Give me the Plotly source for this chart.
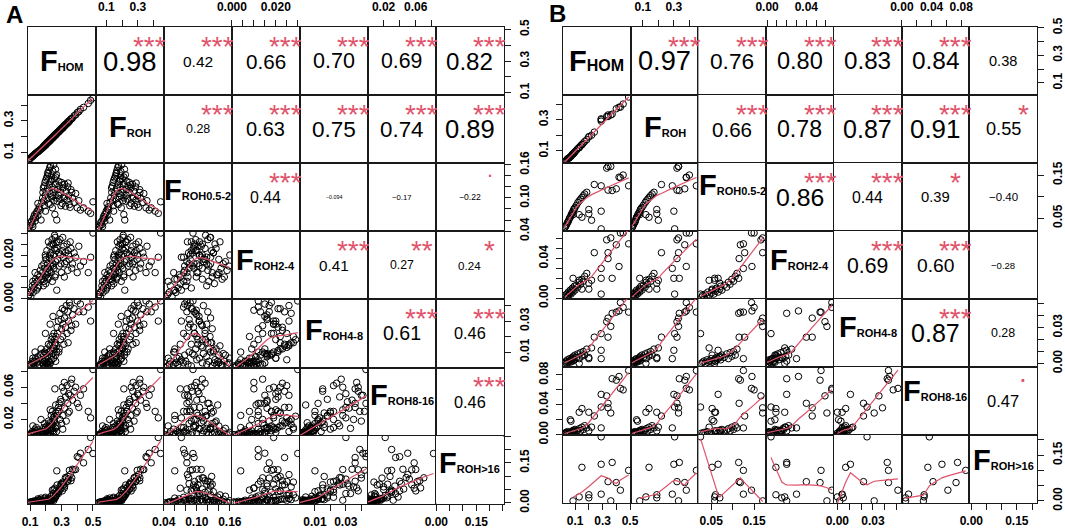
import numpy as np
import plotly.graph_objects as go

# ===================== PANEL A data (one value per individual) =====================
A_F_HOM = [0.088, 0.095, 0.100, 0.105, 0.110, 0.115, 0.120, 0.125, 0.130, 0.135,
           0.140, 0.145, 0.150, 0.155, 0.160, 0.165, 0.170, 0.150, 0.180, 0.182,
           0.185, 0.188, 0.190, 0.192, 0.195, 0.197, 0.200, 0.202, 0.205, 0.207,
           0.210, 0.212, 0.215, 0.217, 0.220, 0.222, 0.225, 0.227, 0.230, 0.232,
           0.235, 0.237, 0.240, 0.242, 0.245, 0.248, 0.250, 0.252, 0.255, 0.258,
           0.260, 0.262, 0.265, 0.268, 0.270, 0.275, 0.280, 0.285, 0.290, 0.295,
           0.300, 0.305, 0.310, 0.315, 0.320, 0.325, 0.330, 0.335, 0.340, 0.345,
           0.350, 0.360, 0.370, 0.380, 0.390, 0.400, 0.410, 0.420, 0.500, 0.485,
           0.440, 0.470, 0.175, 0.198, 0.213, 0.228, 0.238, 0.246, 0.256, 0.263,
           0.272, 0.283, 0.297, 0.308, 0.318, 0.342, 0.355, 0.365, 0.132, 0.118]
A_F_ROH = [0.048, 0.054, 0.061, 0.063, 0.071, 0.072, 0.079, 0.082, 0.089, 0.091,
           0.097, 0.099, 0.105, 0.107, 0.113, 0.115, 0.121, 0.104, 0.128, 0.134,
           0.133, 0.140, 0.138, 0.145, 0.143, 0.150, 0.147, 0.155, 0.152, 0.160,
           0.158, 0.165, 0.162, 0.170, 0.167, 0.175, 0.172, 0.180, 0.177, 0.185,
           0.182, 0.190, 0.187, 0.195, 0.192, 0.201, 0.197, 0.205, 0.202, 0.211,
           0.207, 0.215, 0.212, 0.221, 0.217, 0.228, 0.226, 0.238, 0.236, 0.248,
           0.246, 0.258, 0.256, 0.268, 0.266, 0.278, 0.276, 0.288, 0.286, 0.298,
           0.296, 0.312, 0.318, 0.332, 0.338, 0.352, 0.358, 0.372, 0.445, 0.430,
           0.385, 0.410, 0.124, 0.146, 0.164, 0.176, 0.189, 0.194, 0.207, 0.211,
           0.223, 0.231, 0.249, 0.254, 0.270, 0.289, 0.305, 0.313, 0.090, 0.076]
A_F_ROH_05_2 = [0.042, 0.047, 0.050, 0.055, 0.058, 0.052, 0.062, 0.066, 0.070, 0.064,
                0.072, 0.076, 0.068, 0.080, 0.084, 0.078, 0.060, 0.090, 0.100, 0.110,
                0.118, 0.095, 0.122, 0.086, 0.128, 0.105, 0.132, 0.112, 0.136, 0.098,
                0.140, 0.118, 0.144, 0.090, 0.150, 0.125, 0.155, 0.108, 0.158, 0.130,
                0.102, 0.140, 0.120, 0.082, 0.148, 0.110, 0.160, 0.095, 0.135, 0.070,
                0.125, 0.152, 0.100, 0.142, 0.060, 0.115, 0.105, 0.122, 0.098, 0.110,
                0.128, 0.090, 0.118, 0.102, 0.125, 0.085, 0.112, 0.096, 0.120, 0.104,
                0.088, 0.115, 0.100, 0.092, 0.108, 0.082, 0.095, 0.078, 0.093, 0.072,
                0.082, 0.076, 0.092, 0.076, 0.146, 0.088, 0.133, 0.104, 0.116, 0.138,
                0.094, 0.130, 0.086, 0.124, 0.099, 0.127, 0.083, 0.110, 0.058, 0.048]
A_F_ROH_2_4 = [0.001, 0.002, 0.003, 0.001, 0.004, 0.006, 0.003, 0.005, 0.007, 0.009,
               0.004, 0.008, 0.011, 0.006, 0.010, 0.013, 0.009, 0.005, 0.012, 0.009,
               0.006, 0.016, 0.008, 0.014, 0.010, 0.020, 0.007, 0.018, 0.011, 0.022,
               0.012, 0.016, 0.014, 0.026, 0.010, 0.019, 0.013, 0.024, 0.015, 0.021,
               0.012, 0.018, 0.027, 0.008, 0.016, 0.025, 0.020, 0.014, 0.023, 0.010,
               0.028, 0.017, 0.022, 0.026, 0.004, 0.018, 0.026, 0.015, 0.027, 0.020,
               0.012, 0.022, 0.019, 0.024, 0.016, 0.021, 0.017, 0.025, 0.013, 0.020,
               0.018, 0.023, 0.016, 0.021, 0.019, 0.012, 0.024, 0.015, 0.030, 0.019,
               0.017, 0.012, 0.015, 0.019, 0.009, 0.020, 0.025, 0.015, 0.029, 0.011,
               0.023, 0.021, 0.016, 0.028, 0.010, 0.022, 0.026, 0.014, 0.012, 0.008]
A_F_ROH_4_8 = [0.000, 0.001, 0.002, 0.001, 0.002, 0.004, 0.003, 0.002, 0.004, 0.006,
               0.005, 0.003, 0.007, 0.004, 0.002, 0.008, 0.012, 0.001, 0.005, 0.003,
               0.002, 0.008, 0.004, 0.010, 0.001, 0.006, 0.003, 0.009, 0.002, 0.012,
               0.003, 0.007, 0.002, 0.015, 0.004, 0.010, 0.002, 0.014, 0.003, 0.011,
               0.018, 0.008, 0.016, 0.020, 0.009, 0.013, 0.006, 0.022, 0.012, 0.015,
               0.016, 0.008, 0.020, 0.014, 0.010, 0.022, 0.030, 0.012, 0.035, 0.018,
               0.025, 0.038, 0.028, 0.015, 0.032, 0.026, 0.040, 0.022, 0.036, 0.030,
               0.042, 0.024, 0.034, 0.038, 0.028, 0.043, 0.036, 0.041, 0.043, 0.030,
               0.036, 0.039, 0.009, 0.022, 0.001, 0.028, 0.005, 0.033, 0.018, 0.004,
               0.026, 0.010, 0.031, 0.020, 0.037, 0.016, 0.040, 0.027, 0.010, 0.006]
A_F_ROH_8_16 = [0.001, 0.000, 0.002, 0.001, 0.003, 0.005, 0.002, 0.004, 0.003, 0.006,
                0.010, 0.004, 0.002, 0.007, 0.003, 0.005, 0.020, 0.001, 0.003, 0.002,
                0.004, 0.010, 0.001, 0.015, 0.002, 0.008, 0.004, 0.006, 0.001, 0.012,
                0.002, 0.009, 0.003, 0.018, 0.002, 0.008, 0.001, 0.016, 0.002, 0.010,
                0.025, 0.012, 0.014, 0.030, 0.006, 0.022, 0.004, 0.020, 0.018, 0.058,
                0.010, 0.009, 0.028, 0.005, 0.025, 0.030, 0.035, 0.040, 0.020, 0.045,
                0.015, 0.060, 0.025, 0.055, 0.034, 0.048, 0.018, 0.062, 0.040, 0.052,
                0.030, 0.065, 0.044, 0.055, 0.060, 0.040, 0.035, 0.050, 0.082, 0.022,
                0.058, 0.030, 0.004, 0.010, 0.000, 0.032, 0.016, 0.009, 0.024, 0.038,
                0.012, 0.030, 0.042, 0.008, 0.066, 0.028, 0.050, 0.070, 0.008, 0.012]
A_F_ROH_16 = [0.000, 0.002, 0.001, 0.004, 0.002, 0.005, 0.006, 0.005, 0.003, 0.008,
              0.004, 0.009, 0.015, 0.010, 0.012, 0.011, 0.018, 0.006, 0.008, 0.006,
              0.003, 0.009, 0.004, 0.017, 0.003, 0.007, 0.002, 0.006, 0.004, 0.013,
              0.002, 0.011, 0.001, 0.016, 0.003, 0.009, 0.002, 0.014, 0.001, 0.010,
              0.026, 0.008, 0.012, 0.048, 0.014, 0.028, 0.008, 0.050, 0.015, 0.055,
              0.030, 0.025, 0.044, 0.030, 0.120, 0.040, 0.035, 0.045, 0.060, 0.052,
              0.070, 0.045, 0.070, 0.068, 0.063, 0.095, 0.093, 0.080, 0.081, 0.089,
              0.122, 0.083, 0.126, 0.124, 0.125, 0.173, 0.170, 0.186, 0.185, 0.245,
              0.150, 0.200, 0.005, 0.021, 0.007, 0.010, 0.009, 0.035, 0.019, 0.022,
              0.067, 0.042, 0.072, 0.078, 0.056, 0.099, 0.106, 0.094, 0.002, 0.002]

# correlations shown in the upper triangle (row-wise) and their significance codes
A_COR = [[0.98, 0.42, 0.66, 0.70, 0.69, 0.82],
         [0.28, 0.63, 0.75, 0.74, 0.89],
         [0.44, -0.094, -0.17, -0.22],
         [0.41, 0.27, 0.24],
         [0.61, 0.46],
         [0.46]]
A_SIG = [["***", "***", "***", "***", "***", "***"],
         ["***", "***", "***", "***", "***"],
         ["***", "", "", "."],
         ["***", "**", "*"],
         ["***", "***"],
         ["***"]]
A_RANGE = [[0.084, 0.516], [0.031, 0.463], [0.0395, 0.163], [-0.0002, 0.0308],
           [0.0, 0.044], [0.0, 0.0845], [-0.003, 0.252]]
A_TICKS = [[0.1, 0.2, 0.3, 0.4, 0.5], [0.1, 0.2, 0.3, 0.4],
           [0.04, 0.06, 0.08, 0.10, 0.12, 0.14, 0.16],
           [0.0, 0.005, 0.010, 0.015, 0.020, 0.025, 0.030],
           [0.01, 0.02, 0.03, 0.04], [0.02, 0.04, 0.06, 0.08],
           [0.0, 0.05, 0.10, 0.15, 0.20, 0.25]]
A_TICKTEXT = [["0.1", "", "0.3", "", "0.5"], ["0.1", "", "0.3", ""],
              ["0.04", "", "", "0.10", "", "", "0.16"],
              ["0.000", "", "", "", "0.020", "", ""],
              ["0.01", "", "0.03", ""], ["0.02", "", "0.06", ""],
              ["0.00", "", "", "0.15", "", ""]]

# ===================== PANEL B data =====================
B_F_HOM = [0.290, 0.150, 0.290, 0.370, 0.490, 0.340, 0.400, 0.430, 0.290, 0.200,
           0.200, 0.130, 0.085, 0.360,
           0.025, 0.030, 0.035, 0.040, 0.045, 0.050, 0.055, 0.060, 0.065, 0.070,
           0.075, 0.080, 0.085, 0.090, 0.095, 0.100, 0.110, 0.120, 0.130, 0.140,
           0.150, 0.160, 0.170, 0.185, 0.220, 0.240, 0.330, 0.340, 0.420, 0.450]
B_F_ROH = [0.305, 0.140, 0.300, 0.335, 0.445, 0.320, 0.370, 0.380, 0.290, 0.190,
           0.190, 0.120, 0.080, 0.330,
           0.030, 0.034, 0.038, 0.042, 0.049, 0.050, 0.054, 0.058, 0.060, 0.066,
           0.070, 0.078, 0.080, 0.085, 0.088, 0.095, 0.104, 0.115, 0.122, 0.132,
           0.140, 0.150, 0.160, 0.172, 0.200, 0.220, 0.320, 0.330, 0.380, 0.400]
B_F_ROH_05_2 = [0.025, 0.052, 0.066, 0.114, 0.125, 0.115, 0.118, 0.144, 0.125, 0.060,
                0.070, 0.058, 0.058, 0.170,
                0.027, 0.030, 0.033, 0.036, 0.040, 0.042, 0.046, 0.050, 0.052, 0.056,
                0.060, 0.062, 0.066, 0.070, 0.072, 0.075, 0.080, 0.086, 0.090, 0.094,
                0.098, 0.102, 0.106, 0.110, 0.045, 0.128, 0.166, 0.170, 0.145, 0.150]
B_F_ROH_2_4 = [0.004, 0.009, 0.020, 0.020, 0.055, 0.040, 0.054, 0.066, 0.030, 0.009,
               0.015, 0.018, 0.020, 0.061,
               0.001, 0.003, 0.000, 0.004, 0.002, 0.006, 0.003, 0.005, 0.008, 0.004,
               0.007, 0.010, 0.006, 0.009, 0.012, 0.008, 0.013, 0.011, 0.016, 0.014,
               0.019, 0.017, 0.022, 0.025, 0.018, 0.046, 0.059, 0.046, 0.032, 0.066]
B_F_ROH_4_8 = [0.025, 0.007, 0.011, 0.042, 0.043, 0.022, 0.043, 0.051, 0.004, 0.004,
               0.005, 0.000, 0.002, 0.031,
               0.000, 0.001, 0.002, 0.000, 0.003, 0.001, 0.002, 0.004, 0.001, 0.003,
               0.002, 0.005, 0.004, 0.006, 0.003, 0.007, 0.005, 0.008, 0.004, 0.009,
               0.006, 0.010, 0.007, 0.012, 0.013, 0.022, 0.035, 0.038, 0.044, 0.047]
B_F_ROH_8_16 = [0.037, 0.035, 0.054, 0.075, 0.086, 0.042, 0.073, 0.062, 0.009, 0.030,
                0.005, 0.030, 0.005, 0.029,
                0.002, 0.001, 0.003, 0.002, 0.004, 0.001, 0.003, 0.002, 0.020, 0.018,
                0.004, 0.005, 0.003, 0.006, 0.004, 0.007, 0.005, 0.006, 0.008, 0.005,
                0.010, 0.007, 0.012, 0.009, 0.010, 0.025, 0.052, 0.036, 0.078, 0.060]
B_F_ROH_16 = [0.210, 0.110, 0.120, 0.126, 0.100, 0.063, 0.060, 0.035, 0.022, 0.020,
              0.010, 0.013, 0.000, 0.000,
              None, None, None, None, None, None, None, None, None, None,
              None, None, None, None, None, None, None, None, None, None,
              None, None, None, None, None, None, None, None, None, None]

B_COR = [[0.97, 0.76, 0.80, 0.83, 0.84, 0.38],
         [0.66, 0.78, 0.87, 0.91, 0.55],
         [0.86, 0.44, 0.39, -0.40],
         [0.69, 0.60, -0.28],
         [0.87, 0.28],
         [0.47]]
B_SIG = [["***", "***", "***", "***", "***", ""],
         ["***", "***", "***", "***", "*"],
         ["***", "***", "*", ""],
         ["***", "***", ""],
         ["***", ""],
         ["."]]
B_RANGE = [[0.012, 0.505], [0.022, 0.458], [0.02, 0.178], [-0.001, 0.068],
           [-0.003, 0.054], [-0.0005, 0.0907], [-0.007, 0.216]]
B_TICKS = [[0.1, 0.2, 0.3, 0.4, 0.5], [0.1, 0.2, 0.3, 0.4],
           [0.05, 0.10, 0.15],
           [0.0, 0.01, 0.02, 0.03, 0.04, 0.05, 0.06],
           [0.0, 0.01, 0.02, 0.03, 0.04, 0.05],
           [0.0, 0.02, 0.04, 0.06, 0.08],
           [0.0, 0.05, 0.10, 0.15, 0.20]]
B_TICKTEXT = [["0.1", "", "0.3", "", "0.5"], ["0.1", "", "0.3", ""],
              ["0.05", "", "0.15"],
              ["0.00", "", "", "", "0.04", "", ""],
              ["0.00", "", "", "0.03", "", ""],
              ["0.00", "", "0.04", "", "0.08"],
              ["0.00", "", "", "0.15", ""]]

VAR_SUBS = ["HOM", "ROH", "ROH0.5-2", "ROH2-4", "ROH4-8", "ROH8-16", "ROH&gt;16"]

# ===================== layout / style =====================
W, H = 1065, 529
FONT = "Liberation Sans, Arial, Helvetica, sans-serif"
RED = "#DF536B"
LINE = "#1a1a1a"

PANELS = [
    dict(letter="A", data=[A_F_HOM, A_F_ROH, A_F_ROH_05_2, A_F_ROH_2_4, A_F_ROH_4_8, A_F_ROH_8_16, A_F_ROH_16],
         cor=A_COR, sig=A_SIG, rng=A_RANGE, ticks=A_TICKS, ticktext=A_TICKTEXT,
         x0=27.5, y0=27.0, cw=68.0, ch=68.1, letter_xy=(14, 14),
         diag_dy=[0, -2, -7, -5, -3, -7, -7], sub_size=[11, 11, 11, 11, 11, 11, 11]),
    dict(letter="B", data=[B_F_HOM, B_F_ROH, B_F_ROH_05_2, B_F_ROH_2_4, B_F_ROH_4_8, B_F_ROH_8_16, B_F_ROH_16],
         cor=B_COR, sig=B_SIG, rng=B_RANGE, ticks=B_TICKS, ticktext=B_TICKTEXT,
         x0=563.0, y0=27.0, cw=67.7, ch=68.0, letter_xy=(557, 13),
         diag_dy=[0, -2, -12, -5, -6, -10, -9], sub_size=[16, 11, 11, 11, 11, 11, 11]),
]

EM = {"0": 0.556, "1": 0.556, "2": 0.556, "3": 0.556, "4": 0.556, "5": 0.556,
      "6": 0.556, "7": 0.556, "8": 0.556, "9": 0.556, ".": 0.278, "\u2212": 0.584}


def em_width(s):
    return sum(EM.get(c, 0.556) for c in s)


def fmt_r(r):
    s = f"{r:.3f}" if abs(r) < 0.1 else f"{r:.2f}"
    return s.replace("-", "\u2212")


def lowess(x, y, f=2.0 / 3.0, iters=3):
    x = np.asarray(x, float)
    y = np.asarray(y, float)
    o = np.argsort(x, kind="mergesort")
    x, y = x[o], y[o]
    n = len(x)
    ns = max(min(int(f * n + 1e-7), n), 2)
    rw = np.ones(n)
    ys = np.empty(n)
    xr = x[-1] - x[0]
    for it in range(iters + 1):
        for i in range(n):
            d = np.abs(x - x[i])
            h = max(np.sort(d)[ns - 1], 1e-12)
            u = d / h
            w = np.where(u <= 0.999, np.where(u <= 0.001, 1.0, (1 - u ** 3) ** 3), 0.0) * rw
            sw = w.sum()
            if sw <= 0:
                ys[i] = y[i]
                continue
            w = w / sw
            xm = (w * x).sum()
            b = (w * (x - xm) ** 2).sum()
            val = (w * y).sum()
            if np.sqrt(b) > 0.001 * xr:
                val += (w * (x - xm) * y).sum() / b * (x[i] - xm)
            ys[i] = val
        if it == iters:
            break
        res = y - ys
        cmad = 6 * np.median(np.abs(res))
        if cmad < 1e-7 * np.mean(np.abs(y)):
            break
        uu = np.abs(res) / cmad
        rw = np.where(uu <= 0.999, np.where(uu <= 0.001, 1.0, (1 - uu ** 2) ** 2), 0.0)
    return x, ys


def px(xp):
    return xp / W


def py(yp):
    return 1 - yp / H


fig = go.Figure()
layout = {}
annotations = []
base_axis = dict(showgrid=False, zeroline=False, showline=True, mirror=True,
                 linecolor=LINE, linewidth=1, ticks="", showticklabels=False,
                 fixedrange=True, automargin=False)


def tick_style(vals, texts, side, angle, standoff):
    return dict(tickmode="array", tickvals=vals,
                ticktext=[("<b>%s</b>" % t) if t else "" for t in texts],
                ticks="outside", ticklen=6, tickwidth=1, tickcolor=LINE,
                showticklabels=True, side=side, tickangle=angle,
                ticklabelstandoff=standoff, ticklabeloverflow="allow",
                tickfont=dict(family=FONT, size=12, color="black"))


k = 0
for P in PANELS:
    n = min(len(v) for v in P["data"])
    data = [np.array(v[:n], dtype=float) for v in P["data"]]
    cw, ch = P["cw"], P["ch"]
    for i in range(7):
        for j in range(7):
            k += 1
            sx = "" if k == 1 else str(k)
            x0 = P["x0"] + j * cw
            x1 = x0 + cw
            yt = P["y0"] + i * ch
            yb = yt + ch
            xa = dict(base_axis, domain=[px(x0), px(x1)], anchor="y" + sx, range=P["rng"][j])
            ya = dict(base_axis, domain=[py(yb), py(yt)], anchor="x" + sx, range=P["rng"][i])
            if i == 0 and j % 2 == 1:
                xa.update(tick_style(P["ticks"][j], P["ticktext"][j], "top", 0, 4))
            if i == 6 and j % 2 == 0:
                xa.update(tick_style(P["ticks"][j], P["ticktext"][j], "bottom", 0, 1))
            if j == 0 and i % 2 == 1:
                ya.update(tick_style(P["ticks"][i], P["ticktext"][i], "left", -90, 3))
            if j == 6 and i % 2 == 0:
                ya.update(tick_style(P["ticks"][i], P["ticktext"][i], "right", -90, 4))
            layout["xaxis" + sx] = xa
            layout["yaxis" + sx] = ya

            if i > j:
                xv, yv = data[j], data[i]
                ok = np.isfinite(xv) & np.isfinite(yv)
                fig.add_trace(go.Scatter(
                    x=xv[ok], y=yv[ok], mode="markers", xaxis="x" + sx, yaxis="y" + sx,
                    marker=dict(symbol="circle-open", size=6.5, color="black",
                                line=dict(width=1, color="black")),
                    hoverinfo="skip", showlegend=False))
                lx, ly = lowess(xv[ok], yv[ok])
                fig.add_trace(go.Scatter(
                    x=lx, y=ly, mode="lines", xaxis="x" + sx, yaxis="y" + sx,
                    line=dict(color=RED, width=1.2), hoverinfo="skip", showlegend=False))
            else:
                fig.add_trace(go.Scatter(x=[None], y=[None], mode="markers",
                                         xaxis="x" + sx, yaxis="y" + sx,
                                         hoverinfo="skip", showlegend=False))
                if i == j:
                    txt = ("<b>F<span style='font-size:%dpx'>%s</span></b>"
                           % (P["sub_size"][i], VAR_SUBS[i]))
                    annotations.append(dict(
                        x=px(x0 + cw / 2), y=py(yt + ch / 2 + P["diag_dy"][i]),
                        xref="paper", yref="paper", text=txt, showarrow=False,
                        xanchor="center", yanchor="middle",
                        font=dict(family=FONT, size=29, color="black")))
                else:
                    r = P["cor"][i][j - i - 1]
                    sig = P["sig"][i][j - i - 1]
                    label = fmt_r(r)
                    full = 0.8 * cw / em_width(label)
                    fs_num = full * (abs(r) + 0.3) / 1.3
                    annotations.append(dict(
                        x=px(x0 + cw / 2), y=py(yt + ch / 2), xref="paper", yref="paper",
                        text=label, showarrow=False, xanchor="center", yanchor="middle",
                        font=dict(family=FONT, size=fs_num, color="black")))
                    if sig:
                        ty = yt + 0.2 * ch
                        if sig == ".":
                            ty -= 0.30 * full
                        else:
                            ty += 0.20 * full
                        annotations.append(dict(
                            x=px(x0 + 0.8 * cw), y=py(ty), xref="paper", yref="paper",
                            text=sig, showarrow=False, xanchor="center", yanchor="middle",
                            font=dict(family=FONT, size=full, color=RED)))
    lx, ly = P["letter_xy"]
    annotations.append(dict(x=px(lx), y=py(ly), xref="paper", yref="paper",
                            text="<b>%s</b>" % P["letter"], showarrow=False,
                            xanchor="center", yanchor="middle",
                            font=dict(family=FONT, size=24, color="black")))

fig.update_layout(**layout)
fig.update_layout(width=W, height=H, autosize=False,
                  margin=dict(l=0, r=0, t=0, b=0, autoexpand=False),
                  paper_bgcolor="white", plot_bgcolor="white",
                  showlegend=False, annotations=annotations,
                  font=dict(family=FONT, color="black"))

fig.write_html("out.html", config={"displayModeBar": False},
               post_script="document.body.style.margin='0';")
